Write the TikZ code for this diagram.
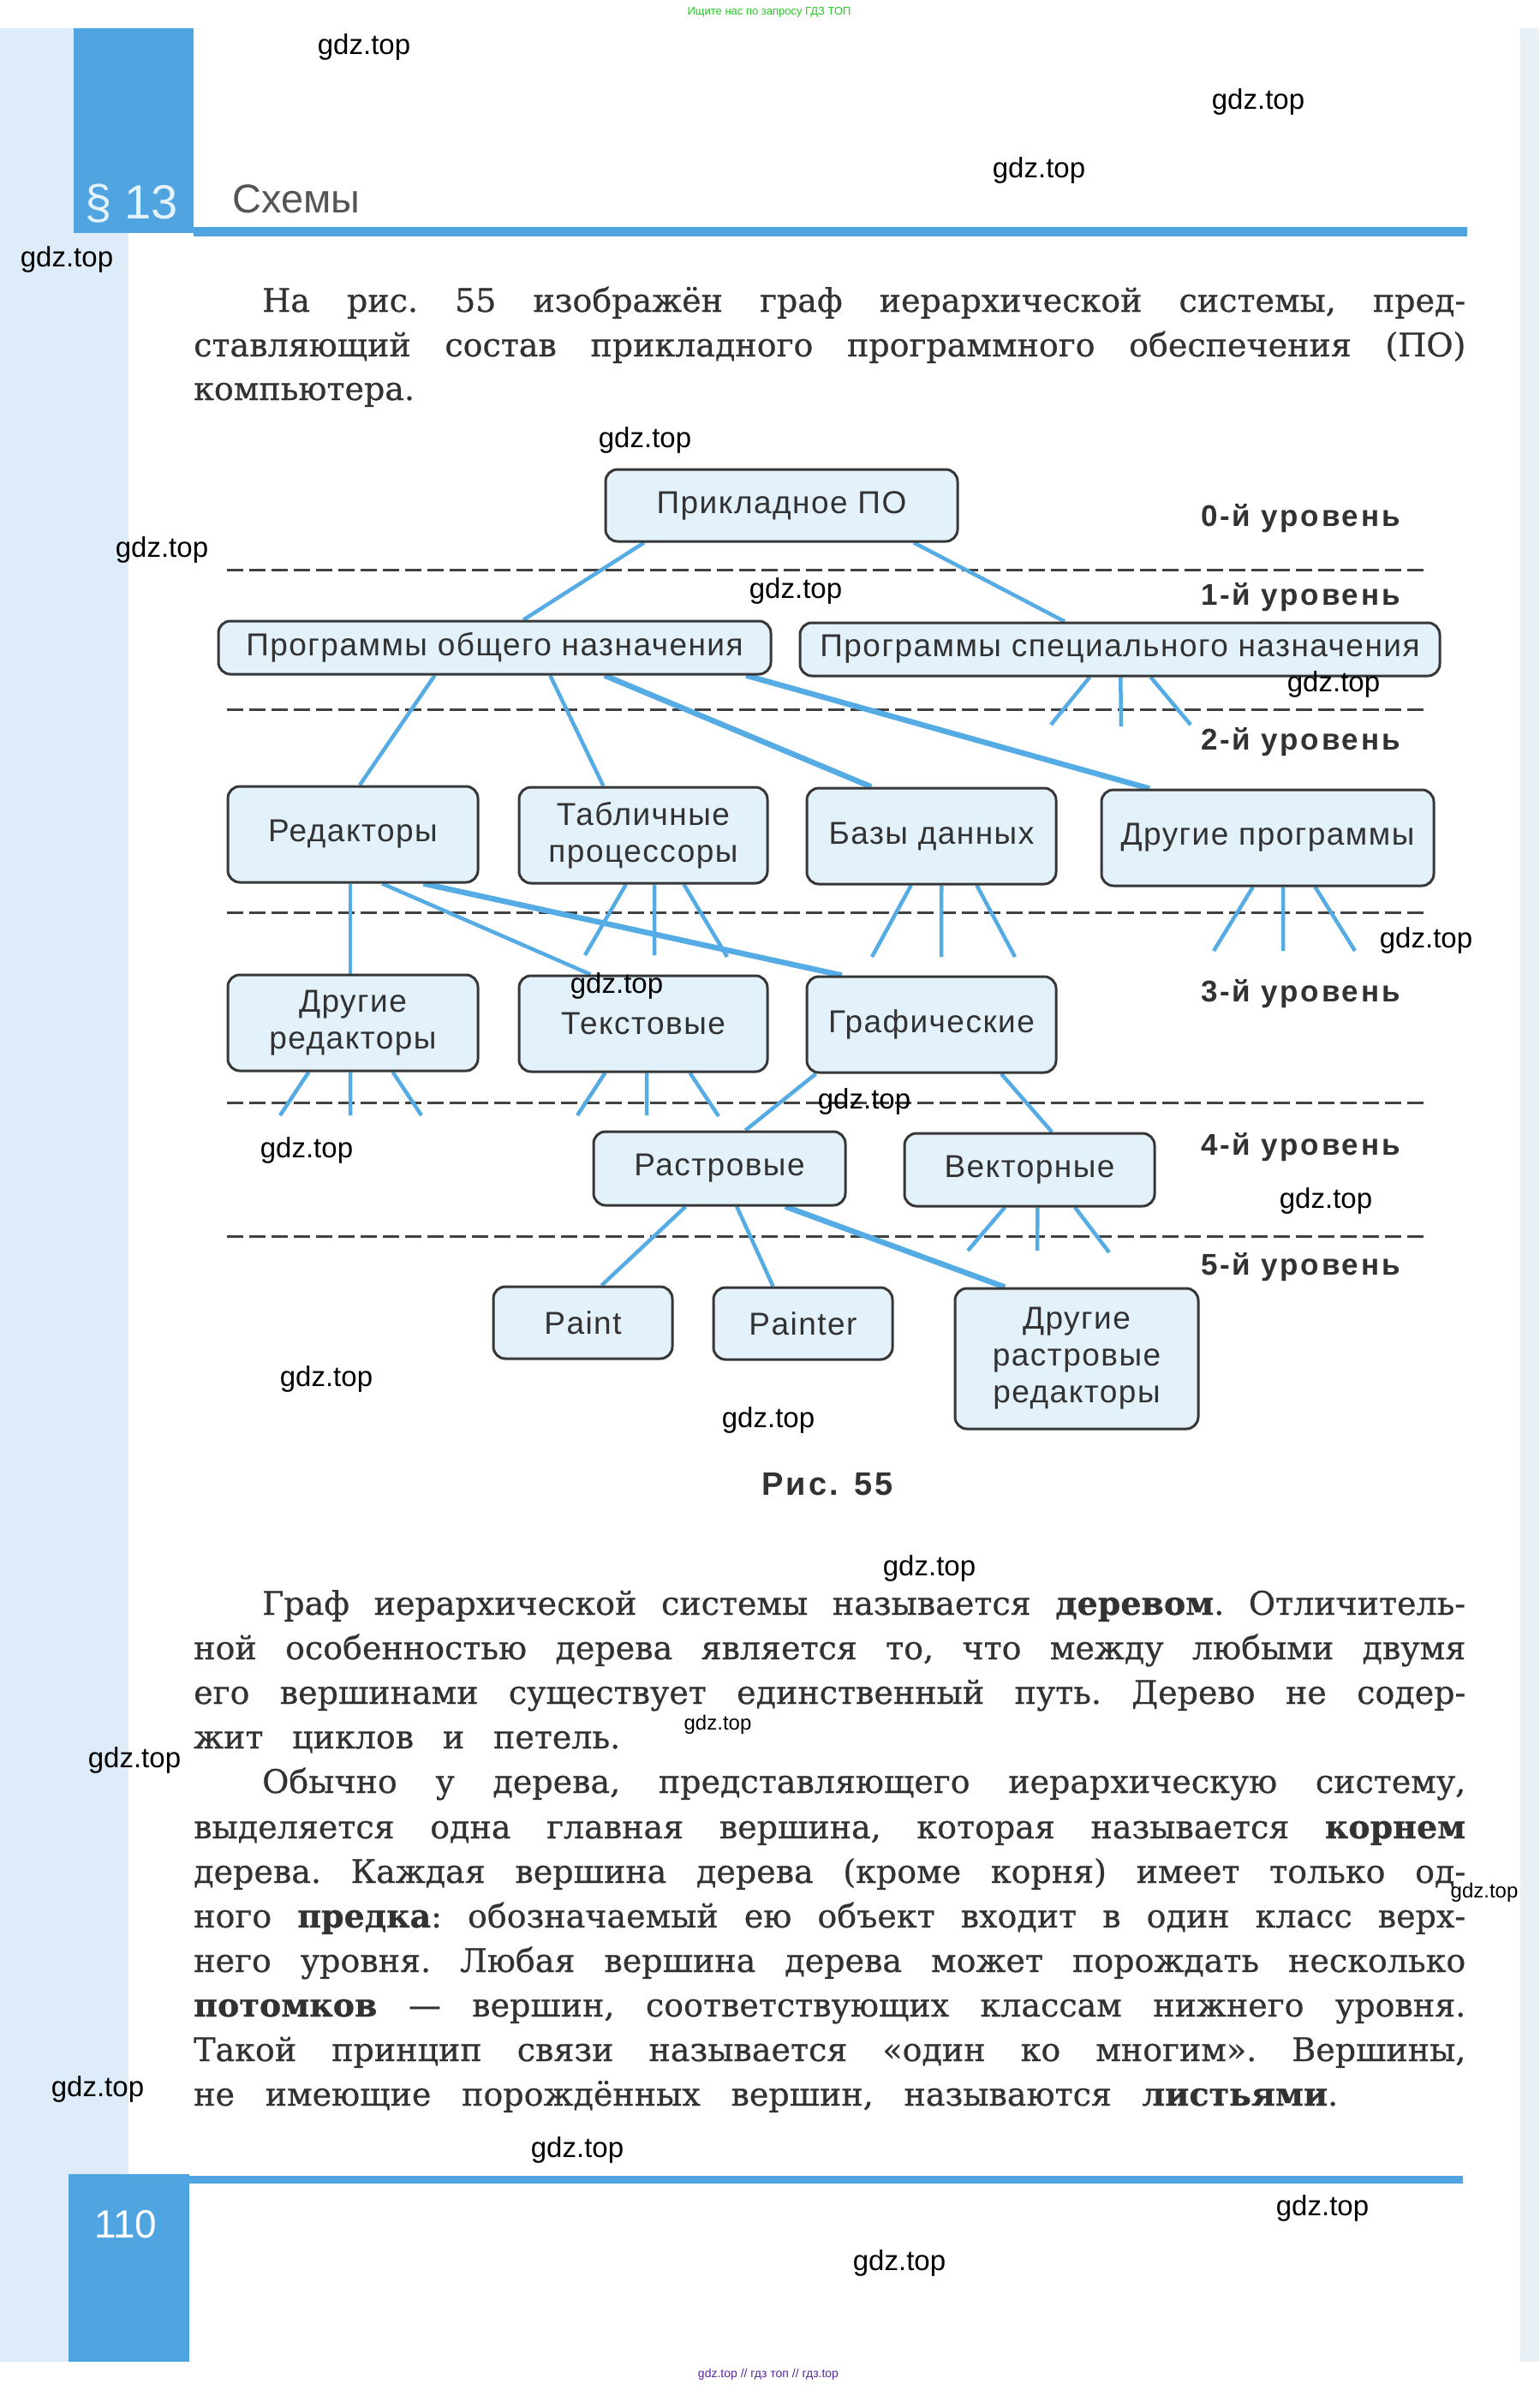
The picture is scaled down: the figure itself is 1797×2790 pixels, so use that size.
\documentclass[tikz,border=0pt]{standalone}
\usepackage{fontspec}
\usetikzlibrary{calc}
\newfontfamily\diagf[LetterSpace=4]{Liberation Sans}
\newfontfamily\lvlf[LetterSpace=8]{Liberation Sans}
\newfontfamily\wmf{Liberation Sans}
\newfontfamily\headf{Liberation Sans}
\newfontfamily\bodyf[FakeBold=0.6]{DejaVu Serif}
\definecolor{pagebl}{RGB}{221,236,248}
\definecolor{edgebl}{RGB}{232,240,246}
\definecolor{tabbl}{RGB}{80,165,225}
\definecolor{linkbl}{RGB}{85,172,228}
\definecolor{nodefill}{RGB}{226,241,250}
\definecolor{nodedraw}{RGB}{55,55,55}
\definecolor{txtgray}{RGB}{50,50,50}
\definecolor{headgray}{RGB}{85,85,85}
\definecolor{dashgray}{RGB}{65,65,65}
\definecolor{wmgreen}{RGB}{40,200,40}
\definecolor{wmpurple}{RGB}{90,40,160}
\definecolor{tabtext}{RGB}{228,242,252}
\pgfdeclarelayer{bgpage}
\pgfdeclarelayer{bglinks}
\pgfsetlayers{bgpage,bglinks,main}
\tikzset{
  box/.style={draw=nodedraw, line width=3pt, fill=nodefill, rounded corners=14pt,
    inner sep=0pt, align=center, text=txtgray,
    font=\diagf\fontsize{37}{43}\selectfont},
  link/.style={draw=linkbl, line width=4.5pt},
  thicklink/.style={draw=linkbl, line width=6.5pt},
  sep/.style={draw=dashgray, line width=3pt, dash pattern=on 19pt off 7pt},
  lvl/.style={anchor=west, inner sep=0pt, text=txtgray,
    font=\lvlf\bfseries\fontsize{35}{38}\selectfont},
  wm/.style={inner sep=0pt, text=black, font=\wmf\fontsize{33}{36}\selectfont},
  wmsmall/.style={inner sep=0pt, text=black, font=\wmf\fontsize{24}{28}\selectfont},
  bodyline/.style={anchor=base west, inner sep=0pt, text=txtgray,
    font=\bodyf\frenchspacing\fontsize{38}{52}\selectfont}
}
\newcommand{\fr}[3]{($(#1.#2 west)!#3!(#1.#2 east)$)}
\begin{document}
\begin{tikzpicture}[x=1pt,y=-1pt]
\useasboundingbox (0,0) rectangle (1797,2790);
\begin{pgfonlayer}{bgpage}
  \fill[white] (0,0) rectangle (1797,2790);
  \fill[pagebl] (0,33) rectangle (150,2757);
  \fill[edgebl] (1775,33) rectangle (1797,2757);
  \fill[tabbl] (86,33) rectangle (226,272);
  \fill[tabbl] (226,265) rectangle (1713,276);
  \fill[tabbl] (80,2538) rectangle (221,2757);
  \fill[tabbl] (221,2540) rectangle (1708,2549);
  \draw[sep] (265,665) -- (1668,665);
  \draw[sep] (265,828) -- (1668,828);
  \draw[sep] (265,1065) -- (1668,1065);
  \draw[sep] (265,1287) -- (1668,1287);
  \draw[sep] (265,1443) -- (1668,1443);
\end{pgfonlayer}

\node[anchor=west, inner sep=0pt, text=tabtext, font=\headf\fontsize{56}{60}\selectfont] (sec) at (99,238) {§ 13};
\node[anchor=west, inner sep=0pt, text=headgray, font=\headf\fontsize{47}{52}\selectfont] (title) at (271,232) {Схемы};
\node[anchor=west, inner sep=0pt, text=white, font=\headf\fontsize{46}{50}\selectfont] (pnum) at (110,2597) {110};
\node[inner sep=0pt, text=wmgreen, font=\wmf\fontsize{13}{15}\selectfont] (topnote) at (898,14) {Ищите нас по запросу ГДЗ ТОП};
\node[inner sep=0pt, text=wmpurple, font=\wmf\fontsize{14}{16}\selectfont] (botnote) at (897,2772) {gdz.top // гдз топ // гдз.top};

\node[bodyline] (p1a) at (306,364) {\makebox[1405pt][s]{На рис. 55 изображён граф иерархической системы, пред-}};
\node[bodyline] (p1b) at (226,416) {\makebox[1485pt][s]{ставляющий состав прикладного программного обеспечения (ПО)}};
\node[bodyline] (p1c) at (226,467) {компьютера.};

\node[box, minimum width=411pt, minimum height=84pt] (root) at (912.5,590) {Прикладное ПО};
\node[box, minimum width=645pt, minimum height=62pt] (gen) at (577.5,756) {Программы общего назначения};
\node[box, minimum width=747pt, minimum height=62pt] (spec) at (1307.5,758) {Программы специального назначения};
\node[box, minimum width=292pt, minimum height=112pt] (red) at (412,974) {Редакторы};
\node[box, minimum width=290pt, minimum height=112pt] (tab) at (751,975) {Табличные\\процессоры};
\node[box, minimum width=291pt, minimum height=112pt] (db) at (1087.5,976) {Базы данных};
\node[box, minimum width=388pt, minimum height=112pt] (oth) at (1480,978) {Другие программы};
\node[box, minimum width=292pt, minimum height=112pt] (ored) at (412,1194) {Другие\\редакторы};
\node[box, minimum width=290pt, minimum height=112pt] (txt) at (751,1195) {Текстовые};
\node[box, minimum width=291pt, minimum height=112pt] (gra) at (1087.5,1196) {Графические};
\node[box, minimum width=294pt, minimum height=86pt] (ras) at (840,1364) {Растровые};
\node[box, minimum width=292pt, minimum height=85pt] (vec) at (1202,1365.5) {Векторные};
\node[box, minimum width=209pt, minimum height=84pt] (paint) at (680.5,1544) {Paint};
\node[box, minimum width=209pt, minimum height=84pt] (painter) at (937.5,1545) {Painter};
\node[box, minimum width=284pt, minimum height=164pt] (ora) at (1257,1586) {Другие\\растровые\\редакторы};

\coordinate (sp1) at (1227,846);
\coordinate (sp2) at (1309,848);
\coordinate (sp3) at (1390,846);
\coordinate (tb1) at (683,1115);
\coordinate (tb2) at (764,1115);
\coordinate (tb3) at (849,1117);
\coordinate (db1) at (1018,1117);
\coordinate (db2) at (1099,1117);
\coordinate (db3) at (1185,1117);
\coordinate (ot1) at (1417,1110);
\coordinate (ot2) at (1498,1110);
\coordinate (ot3) at (1582,1110);
\coordinate (or1) at (327,1302);
\coordinate (or2) at (409,1302);
\coordinate (or3) at (492,1302);
\coordinate (tx1) at (674,1302);
\coordinate (tx2) at (755,1302);
\coordinate (tx3) at (839,1303);
\coordinate (ve1) at (1130,1460);
\coordinate (ve2) at (1211,1460);
\coordinate (ve3) at (1295,1462);

\begin{pgfonlayer}{bglinks}
  \draw[link] \fr{root}{south}{0.112} -- \fr{gen}{north}{0.552};
  \draw[link] \fr{root}{south}{0.873} -- \fr{spec}{north}{0.414};
  \draw[link] \fr{gen}{south}{0.392} -- \fr{red}{north}{0.527};
  \draw[link] \fr{gen}{south}{0.600} -- \fr{tab}{north}{0.341};
  \draw[thicklink] \fr{gen}{south}{0.698} -- \fr{db}{north}{0.261};
  \draw[thicklink] \fr{gen}{south}{0.953} -- \fr{oth}{north}{0.147};
  \draw[link] \fr{spec}{south}{0.453} -- (sp1);
  \draw[link] \fr{spec}{south}{0.501} -- (sp2);
  \draw[link] \fr{spec}{south}{0.548} -- (sp3);
  \draw[link] \fr{red}{south}{0.490} -- \fr{ored}{north}{0.490};
  \draw[link] \fr{red}{south}{0.616} -- \fr{txt}{north}{0.290};
  \draw[thicklink] \fr{red}{south}{0.780} -- \fr{gra}{north}{0.144};
  \draw[link] \fr{tab}{south}{0.431} -- (tb1);
  \draw[link] \fr{tab}{south}{0.545} -- (tb2);
  \draw[link] \fr{tab}{south}{0.662} -- (tb3);
  \draw[link] \fr{db}{south}{0.419} -- (db1);
  \draw[link] \fr{db}{south}{0.540} -- (db2);
  \draw[link] \fr{db}{south}{0.680} -- (db3);
  \draw[link] \fr{oth}{south}{0.456} -- (ot1);
  \draw[link] \fr{oth}{south}{0.546} -- (ot2);
  \draw[link] \fr{oth}{south}{0.642} -- (ot3);
  \draw[link] \fr{ored}{south}{0.325} -- (or1);
  \draw[link] \fr{ored}{south}{0.490} -- (or2);
  \draw[link] \fr{ored}{south}{0.658} -- (or3);
  \draw[link] \fr{txt}{south}{0.348} -- (tx1);
  \draw[link] \fr{txt}{south}{0.514} -- (tx2);
  \draw[link] \fr{txt}{south}{0.686} -- (tx3);
  \draw[link] \fr{gra}{south}{0.041} -- \fr{ras}{north}{0.602};
  \draw[link] \fr{gra}{south}{0.777} -- \fr{vec}{north}{0.589};
  \draw[link] \fr{ras}{south}{0.367} -- \fr{paint}{north}{0.603};
  \draw[link] \fr{ras}{south}{0.568} -- \fr{painter}{north}{0.335};
  \draw[thicklink] \fr{ras}{south}{0.759} -- \fr{ora}{north}{0.208};
  \draw[link] \fr{vec}{south}{0.402} -- (ve1);
  \draw[link] \fr{vec}{south}{0.532} -- (ve2);
  \draw[link] \fr{vec}{south}{0.680} -- (ve3);
\end{pgfonlayer}

\node[lvl] (l0) at (1402,605) {0-й уровень};
\node[lvl] (l1) at (1402,697) {1-й уровень};
\node[lvl] (l2) at (1402,866) {2-й уровень};
\node[lvl] (l3) at (1402,1160) {3-й уровень};
\node[lvl] (l4) at (1402,1339) {4-й уровень};
\node[lvl] (l5) at (1402,1479) {5-й уровень};
\node[inner sep=0pt, text=txtgray, font=\lvlf\bfseries\fontsize{38}{40}\selectfont] (cap) at (966,1733) {Рис. 55};

\node[bodyline] (p2a) at (306,1885) {\makebox[1405pt][s]{Граф иерархической системы называется {\bfseries деревом}. Отличитель-}};
\node[bodyline] (p2b) at (226,1937) {\makebox[1485pt][s]{ной особенностью дерева является то, что между любыми двумя}};
\node[bodyline] (p2c) at (226,1989) {\makebox[1485pt][s]{его вершинами существует единственный путь. Дерево не содер-}};
\node[bodyline] (p2d) at (226,2041) {\makebox[498pt][s]{жит циклов и петель.}};
\node[bodyline] (p3a) at (306,2093) {\makebox[1405pt][s]{Обычно у дерева, представляющего иерархическую систему,}};
\node[bodyline] (p3b) at (226,2146) {\makebox[1485pt][s]{выделяется одна главная вершина, которая называется {\bfseries корнем}}};
\node[bodyline] (p3c) at (226,2198) {\makebox[1485pt][s]{дерева. Каждая вершина дерева (кроме корня) имеет только од-}};
\node[bodyline] (p3d) at (226,2250) {\makebox[1485pt][s]{ного {\bfseries предка}: обозначаемый ею объект входит в один класс верх-}};
\node[bodyline] (p3e) at (226,2302) {\makebox[1485pt][s]{него уровня. Любая вершина дерева может порождать несколько}};
\node[bodyline] (p3f) at (226,2354) {\makebox[1485pt][s]{{\bfseries потомков} — вершин, соответствующих классам нижнего уровня.}};
\node[bodyline] (p3g) at (226,2406) {\makebox[1485pt][s]{Такой принцип связи называется «один ко многим». Вершины,}};
\node[bodyline] (p3h) at (226,2458) {\makebox[1336pt][s]{не имеющие порождённых вершин, называются {\bfseries листьями}.}};

\node[wm] (wm1) at (425,55) {gdz.top};
\node[wm] (wm2) at (1469,119) {gdz.top};
\node[wm] (wm3) at (1213,199) {gdz.top};
\node[wm] (wm4) at (78,303) {gdz.top};
\node[wm] (wm5) at (753,514) {gdz.top};
\node[wm] (wm6) at (189,642) {gdz.top};
\node[wm] (wm7) at (929,690) {gdz.top};
\node[wm] (wm8) at (1557,799) {gdz.top};
\node[wm] (wm9) at (1665,1098) {gdz.top};
\node[wm] (wm10) at (720,1151) {gdz.top};
\node[wm] (wm11) at (1009,1286) {gdz.top};
\node[wm] (wm12) at (358,1343) {gdz.top};
\node[wm] (wm13) at (1548,1402) {gdz.top};
\node[wm] (wm14) at (381,1610) {gdz.top};
\node[wm] (wm15) at (897,1658) {gdz.top};
\node[wm] (wm16) at (1085,1831) {gdz.top};
\node[wmsmall] (wm17) at (838,2013) {gdz.top};
\node[wm] (wm18) at (157,2055) {gdz.top};
\node[wmsmall] (wm19) at (1733,2209) {gdz.top};
\node[wm] (wm20) at (114,2439) {gdz.top};
\node[wm] (wm21) at (674,2510) {gdz.top};
\node[wm] (wm22) at (1544,2578) {gdz.top};
\node[wm] (wm23) at (1050,2642) {gdz.top};
\end{tikzpicture}
\end{document}
